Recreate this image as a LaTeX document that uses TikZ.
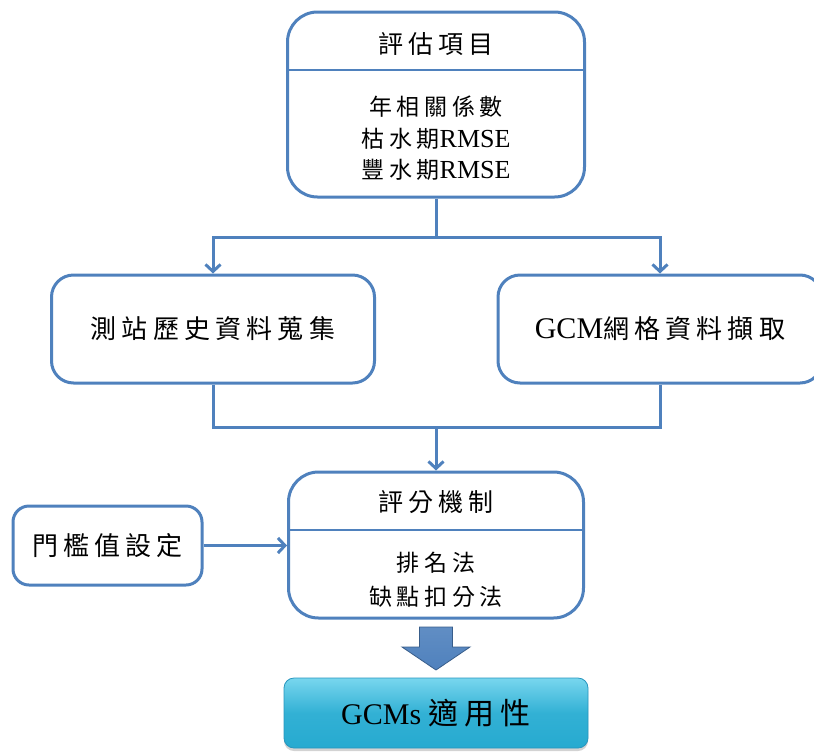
\documentclass[tikz,border=0pt]{standalone}
\usepackage{fontspec}
\setmainfont{Liberation Serif}
\newfontfamily\cjk{Noto Sans CJK TC}[LetterSpace=20]
\usetikzlibrary{arrows.meta,shadows}

\definecolor{lineblue}{HTML}{4F81BD}
\definecolor{arrowedge}{HTML}{385D8A}
\definecolor{cyantop}{RGB}{120,214,238}
\definecolor{cyanbot}{RGB}{38,170,208}
\definecolor{cyanedge}{RGB}{40,150,190}

\newcommand{\zh}[1]{{\cjk #1}}
\newcommand{\fsz}[2]{\fontsize{#1}{#2}\selectfont}

\tikzset{
  box/.style={draw=lineblue, line width=3pt, fill=white, align=center, inner sep=0pt},
  divider/.style={draw=lineblue, line width=1.6pt},
  conn/.style={draw=lineblue, line width=3pt},
  tip/.style={-{Straight Barb[length=7pt,width=15pt]}},
  label/.style={align=center, inner sep=0pt},
}

\begin{document}
\begin{tikzpicture}[x=1pt,y=-1pt]
\clip (0,0) rectangle (814,753);

% evaluation items
\node[box, rounded corners=30pt, minimum width=297pt, minimum height=185pt] (eval) at (436,104.5) {};
\coordinate (evaldiv) at (0,70);
\draw[divider] (eval.west |- evaldiv) -- (eval.east |- evaldiv);
\node[label, font=\fsz{25}{30}] (evaltitle) at (436,44) {\zh{評估項目}};
\node[label, font=\fsz{23}{31.5}] (evalbody) at (436,138.5)
  {\zh{年相關係數}\\\zh{枯水期}{\fsz{26}{31.5}RMSE}\\\zh{豐水期}{\fsz{26}{31.5}RMSE}};

% data sources
\node[box, rounded corners=22pt, minimum width=323pt, minimum height=108pt, font=\fsz{26}{30}] (station) at (213,329) {\zh{測站歷史資料蒐集}};
\node[box, rounded corners=22pt, minimum width=324pt, minimum height=108pt, font=\fsz{26}{30}] (gcm) at (660,329) {{\fsz{30}{30}GCM}\zh{網格資料擷取}};

% scoring mechanism
\node[box, rounded corners=30pt, minimum width=295pt, minimum height=146pt] (score) at (436,545) {};
\coordinate (scorediv) at (0,530);
\draw[divider] (score.west |- scorediv) -- (score.east |- scorediv);
\node[label, font=\fsz{25}{30}] (scoretitle) at (436,502) {\zh{評分機制}};
\node[label, font=\fsz{23}{34}] (scorebody) at (436,580) {\zh{排名法}\\\zh{缺點扣分法}};

% threshold
\node[box, rounded corners=16pt, minimum width=189pt, minimum height=79pt, font=\fsz{26}{30}] (thresh) at (107.5,545.5) {\zh{門檻值設定}};

% result
\node[draw=cyanedge, line width=0.8pt, top color=cyantop, bottom color=cyanbot, middle color=cyanbot!85!cyantop,
      rounded corners=10pt, minimum width=304pt, minimum height=70pt, inner sep=0pt,
      drop shadow={opacity=0.35, shadow xshift=0pt, shadow yshift=-3pt},
      font=\fsz{30}{30}] (result) at (436,713) {GCMs \zh{適用性}};

% connectors
\coordinate (split) at (436,237);
\coordinate (merge) at (436,427);
\draw[conn] (eval.south) -- (split);
\draw[conn, tip] (split) -| (station.north);
\draw[conn, tip] (split) -| (gcm.north);
\draw[conn] (station.south) |- (merge);
\draw[conn] (gcm.south) |- (merge);
\draw[conn, tip] (merge) -- (score.north);
\draw[conn, tip] (thresh.east) -- (score.west |- thresh.east);

% block arrow to the result
\path[draw=arrowedge, line width=0.8pt, top color=lineblue!90!white, bottom color=lineblue]
  (419.5,627) -- (452.5,627) -- (452.5,647) -- (470,647) -- (436,670)
  -- (402,647) -- (419.5,647) -- cycle;
\end{tikzpicture}
\end{document}
